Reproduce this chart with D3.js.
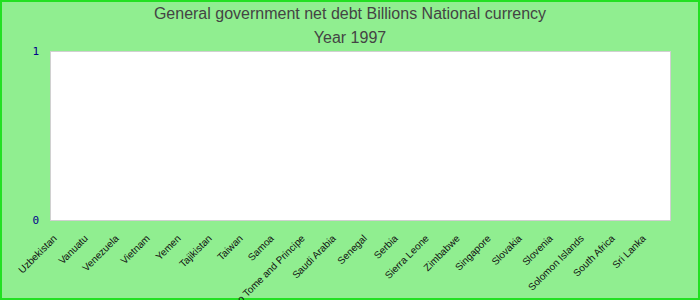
<!DOCTYPE html>
<html>
<head>
<meta charset="utf-8">
<script src="https://cdn.jsdelivr.net/npm/d3@7"></script>
</head>
<body style="margin:0">
<svg id="canvas" width="700" height="300"></svg>
<script>
  // chart texts
  let titleLines = ['General government net debt Billions National currency', 'Year 1997']

  // categories (no values reported for 1997)
  let countries = ['Uzbekistan', 'Vanuatu', 'Venezuela', 'Vietnam', 'Yemen', 'Tajikistan', 'Taiwan', 'Samoa',
    'Sao Tome and Principe', 'Saudi Arabia', 'Senegal', 'Serbia', 'Sierra Leone', 'Zimbabwe', 'Singapore',
    'Slovakia', 'Slovenia', 'Solomon Islands', 'South Africa', 'Sri Lanka']
  let values = countries.map(() => null)

  let yTicks = [0, 1]

  let width = 700
  let height = 300
  let margin = {top: 51, right: 30, bottom: 80, left: 50}

  let canvas = d3.select('#canvas')

  canvas.append('rect')
        .attr('x', 1).attr('y', 1)
        .attr('width', width - 2).attr('height', height - 2)
        .attr('fill', '#90ee90')
        .attr('stroke', '#22e022')
        .attr('stroke-width', 2)

  canvas.selectAll('text.title')
        .data(titleLines)
        .enter()
        .append('text')
        .attr('class', 'title')
        .attr('x', width / 2)
        .attr('y', (d, i) => 19 + i * 24)
        .attr('text-anchor', 'middle')
        .attr('font-family', 'Liberation Sans')
        .attr('font-size', 16)
        .attr('fill', '#444')
        .text(d => d)

  let x = d3.scaleBand()
            .domain(countries)
            .range([margin.left, width - margin.right])

  let y = d3.scaleLinear()
            .domain([0, 1])
            .range([height - margin.bottom, margin.top])

  canvas.append('rect')
        .attr('x', margin.left + 0.5)
        .attr('y', margin.top + 0.5)
        .attr('width', width - margin.left - margin.right)
        .attr('height', height - margin.top - margin.bottom)
        .attr('fill', 'white')
        .attr('stroke', '#d0d0d0')

  // bars (empty for this year)
  canvas.selectAll('rect.bar')
        .data(countries.filter((c, i) => values[i] != null))
        .enter()
        .append('rect')
        .attr('class', 'bar')
        .attr('x', d => x(d))
        .attr('width', x.bandwidth())
        .attr('y', d => y(values[countries.indexOf(d)]))
        .attr('height', d => y(0) - y(values[countries.indexOf(d)]))
        .attr('fill', 'steelblue')

  let yAxis = canvas.append('g')
        .attr('transform', `translate(${margin.left},0)`)
        .call(d3.axisLeft(y).tickValues(yTicks).tickFormat(d3.format('d')).tickSize(0).tickPadding(11))
  yAxis.select('.domain').remove()
  yAxis.selectAll('text')
        .attr('font-family', 'DejaVu Sans Mono, monospace')
        .attr('font-size', 11)
        .attr('fill', '#00008b')

  // x labels, each in its own group rotated about the label anchor
  let labelY = height - margin.bottom + 19
  let labelX = d => x(d) + x.bandwidth() / 2 - 8
  canvas.append('g')
        .selectAll('g')
        .data(countries)
        .enter()
        .append('g')
        .attr('transform', d => `translate(${labelX(d)},${labelY}) rotate(-45)`)
        .append('text')
        .attr('text-anchor', 'end')
        .attr('font-family', 'Liberation Sans')
        .attr('font-size', 10)
        .attr('fill', '#111')
        .text(d => d)
</script>
</body>
</html>
